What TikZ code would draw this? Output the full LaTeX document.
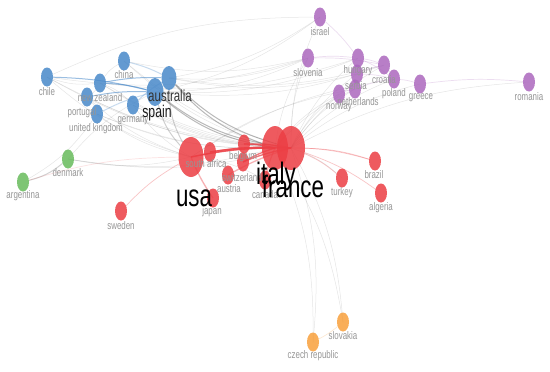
\documentclass[tikz,border=0pt]{standalone}
\usepackage{fontspec}
\setmainfont{Liberation Sans}
\usetikzlibrary{shapes.geometric}
\pgfdeclarelayer{bg}
\pgfdeclarelayer{paper}
\pgfsetlayers{paper,bg,main}
\definecolor{cred}{RGB}{236,62,68}
\definecolor{cblue}{RGB}{72,137,202}
\definecolor{cpurp}{RGB}{172,104,190}
\definecolor{cgreen}{RGB}{104,187,92}
\definecolor{corange}{RGB}{248,160,60}
\definecolor{clab}{RGB}{150,150,150}
\newcommand{\sq}[1]{\scalebox{0.72}[1]{#1}}
\begin{document}
\begin{tikzpicture}[x=1pt,y=-1pt,
  nd/.style={ellipse, inner sep=0pt, minimum width=12pt, minimum height=19pt, draw=none, fill opacity=0.85},
  rn/.style={nd, fill=cred},
  bn/.style={nd, fill=cblue},
  pn/.style={nd, fill=cpurp},
  gn/.style={nd, fill=cgreen},
  on/.style={nd, fill=corange},
  lab/.style={text=clab, font=\fontsize{11}{11}\selectfont, inner sep=0pt},
  mid/.style={text=black!80, font=\fontsize{16}{16}\selectfont, inner sep=0pt},
  big/.style={text=black, font=\fontsize{31}{31}\selectfont, inner sep=0pt},
  ef/.style={draw=gray, draw opacity=0.2, line width=0.5pt, bend right=12},
  eb/.style={draw=cblue, draw opacity=0.55, line width=1pt, bend left=6},
  ed/.style={draw=black!60, draw opacity=0.45, line width=1pt, bend right=14},
  er/.style={draw=cred, draw opacity=0.7, line width=1.3pt, bend left=6},
  el/.style={draw=cred, draw opacity=0.3, line width=0.7pt, bend left=8},
  ep/.style={draw=cpurp, draw opacity=0.22, line width=0.7pt, bend left=6},
  eo/.style={draw=corange, draw opacity=0.25, line width=0.6pt, bend left=6}
]
\begin{pgfonlayer}{paper}
\fill[white] (0,0) rectangle (550,372);
\end{pgfonlayer}
\useasboundingbox (0,0) rectangle (550,372);

% ---------- nodes ----------
% blue
\node[bn] (chile) at (47,77) {};
\node[bn] (china) at (124,61) {};
\node[bn] (nz) at (100,83) {};
\node[bn] (portugal) at (87,97) {};
\node[bn] (uk) at (97,114) {};
\node[bn] (germany) at (133,105) {};
\node[bn, minimum width=15pt, minimum height=24pt] (australia) at (169,78) {};
\node[bn, minimum width=17pt, minimum height=28pt] (spain) at (155,92) {};
% green
\node[gn] (denmark) at (68,159) {};
\node[gn] (argentina) at (23,182) {};
% red
\node[rn] (sweden) at (121,211) {};
\node[rn, minimum width=25pt, minimum height=40pt] (usa) at (191,157) {};
\node[rn, minimum width=12pt, minimum height=20pt] (safrica) at (210,152) {};
\node[rn] (belgium) at (244,144) {};
\node[rn] (switzerland) at (243,162) {};
\node[rn] (austria) at (228,175) {};
\node[rn] (japan) at (213,198) {};
\node[rn] (canada) at (265,180) {};
\node[rn, minimum width=26pt, minimum height=44pt] (italy) at (275,148) {};
\node[rn, minimum width=28pt, minimum height=44pt] (france) at (291,148) {};
\node[rn] (turkey) at (342,178) {};
\node[rn] (brazil) at (375,161) {};
\node[rn] (algeria) at (381,193) {};
% purple
\node[pn] (israel) at (320,17) {};
\node[pn] (slovenia) at (308,58) {};
\node[pn] (hungary) at (358,58) {};
\node[pn] (serbia) at (357,74) {};
\node[pn] (netherlands) at (355,89) {};
\node[pn] (norway) at (339,94) {};
\node[pn] (croatia) at (384,65) {};
\node[pn] (poland) at (394,79) {};
\node[pn] (greece) at (420,84) {};
\node[pn] (romania) at (529,82) {};
% orange
\node[on] (slovakia) at (343,322) {};
\node[on] (czech) at (313,342) {};

% ---------- edges ----------
\begin{pgfonlayer}{bg}
% faint grey web
\foreach \a in {chile,china,nz,portugal,uk,germany,denmark,slovenia,israel,hungary,serbia,croatia,poland,greece,romania,netherlands,norway,czech,slovakia,turkey}
  \draw[ef] (\a.center) to (france.center);
\foreach \a in {chile,china,nz,uk,germany,denmark,slovenia,norway,czech,slovakia,netherlands}
  \draw[ef] (\a.center) to (italy.center);
\foreach \a in {chile,portugal,uk,germany,denmark,netherlands,poland,canada}
  \draw[ef] (\a.center) to (usa.center);
\foreach \a in {slovenia,hungary,israel,croatia,denmark}
  \draw[ef] (spain.center) to (\a.center);
\foreach \a in {slovenia,israel,croatia,serbia}
  \draw[ef] (australia.center) to (\a.center);
\draw[ef] (chile) to (slovenia);
\draw[ef] (nz) to (hungary);
\draw[ef] (china) to (slovenia);
\draw[ef] (chile) to (nz);
\draw[ef] (china) to (nz);
\draw[ef] (portugal) to (nz);
\draw[ef] (uk) to (portugal);
\draw[ef] (germany) to (nz);
\draw[ef, draw opacity=0.35, line width=1pt] (argentina) to (denmark);
\draw[ef] (argentina) to (uk);
\draw[ef] (israel) to (chile);
\draw[el, draw opacity=0.15] (argentina) to (usa);
% blue
\draw[eb] (chile) to (spain);
\draw[eb] (nz) to (australia);
\draw[eb] (nz) to (spain);
\draw[eb] (portugal) to (spain);
\draw[eb, draw opacity=0.3] (china) to (australia);
\draw[eb, draw opacity=0.3] (germany) to (australia);
\draw[eb, draw opacity=0.3] (uk) to (spain);
% dark grey
\draw[ed] (australia) to (france);
\draw[ed] (australia) to (italy);
\draw[ed] (spain) to (france);
\draw[ed] (spain) to (italy);
\draw[ed, draw opacity=0.3] (australia) to (usa);
\draw[ed, draw opacity=0.3] (spain) to (usa);
% red
\draw[er] (usa.center) to (france.center);
\draw[er] (usa.center) to (italy.center);
\draw[er] (safrica.center) to (france.center);
\draw[er] (safrica.center) to (italy.center);
\draw[er] (belgium.center) to (france.center);
\draw[er] (belgium.center) to (italy.center);
\draw[er] (switzerland.center) to (france.center);
\draw[er] (switzerland.center) to (italy.center);
\draw[er, draw opacity=0.4] (austria.center) to (france.center);
\draw[er, draw opacity=0.4] (canada.center) to (italy.center);
\draw[er, draw opacity=0.4] (japan.center) to (usa.center);
\draw[el] (france) to (turkey);
\draw[el] (france) to (brazil);
\draw[el] (italy) to (brazil);
\draw[el] (france) to (algeria);
\draw[el] (sweden) to (usa);
% purple
\draw[ep] (slovenia) to (hungary);
\draw[ep] (hungary) to (croatia);
\draw[ep] (hungary) to (serbia);
\draw[ep] (serbia) to (croatia);
\draw[ep] (croatia) to (poland);
\draw[ep] (poland) to (greece);
\draw[ep] (greece) to (romania);
\draw[ep] (netherlands) to (poland);
\draw[ep] (norway) to (netherlands);
\draw[ep] (serbia) to (poland);
\draw[ep] (israel) to (hungary);
\draw[ep] (slovenia) to (croatia);
\draw[ep] (hungary) to (poland);
% orange
\draw[eo] (slovakia) to (czech);
\end{pgfonlayer}

% ---------- labels ----------
\node[lab] (l-chile) at (47,92) {\sq{chile}};
\node[lab] (l-china) at (124,75) {\sq{china}};
\node[lab] (l-nz) at (100,98) {\sq{new zealand}};
\node[lab] (l-portugal) at (82,113) {\sq{portugal}};
\node[lab] (l-uk) at (96,129) {\sq{united kingdom}};
\node[lab] (l-germany) at (133,121) {\sq{germany}};
\node[lab] (l-denmark) at (68,173) {\sq{denmark}};
\node[lab] (l-argentina) at (23,196) {\sq{argentina}};
\node[lab] (l-sweden) at (121,226) {\sq{sweden}};
\node[lab] (l-safrica) at (206,164) {\sq{south africa}};
\node[lab] (l-belgium) at (243,157) {\sq{belgium}};
\node[lab] (l-switzerland) at (242,178) {\sq{switzerland}};
\node[lab] (l-austria) at (229,189) {\sq{austria}};
\node[lab] (l-japan) at (212,212) {\sq{japan}};
\node[lab] (l-canada) at (265,195) {\sq{canada}};
\node[lab] (l-turkey) at (342,193) {\sq{turkey}};
\node[lab] (l-brazil) at (374,175) {\sq{brazil}};
\node[lab] (l-algeria) at (381,208) {\sq{algeria}};
\node[lab] (l-israel) at (320,32) {\sq{israel}};
\node[lab] (l-slovenia) at (308,73) {\sq{slovenia}};
\node[lab] (l-hungary) at (358,71) {\sq{hungary}};
\node[lab] (l-serbia) at (356,86) {\sq{serbia}};
\node[lab] (l-netherlands) at (358,102) {\sq{netherlands}};
\node[lab] (l-norway) at (339,108) {\sq{norway}};
\node[lab] (l-croatia) at (384,80) {\sq{croatia}};
\node[lab] (l-poland) at (394,94) {\sq{poland}};
\node[lab] (l-greece) at (421,98) {\sq{greece}};
\node[lab] (l-romania) at (529,97) {\sq{romania}};
\node[lab] (l-slovakia) at (343,336) {\sq{slovakia}};
\node[lab] (l-czech) at (313,356) {\sq{czech republic}};
\node[mid] (l-australia) at (170,96) {\sq{australia}};
\node[mid, font=\fontsize{17}{17}\selectfont, text=black!90] (l-spain) at (157,113) {\sq{spain}};
\node[big] (l-usa) at (194,198) {\sq{usa}};
\node[big] (l-italy) at (276,176) {\sq{italy}};
\node[big] (l-france) at (293,186) {\sq{france}};
\end{tikzpicture}
\end{document}
